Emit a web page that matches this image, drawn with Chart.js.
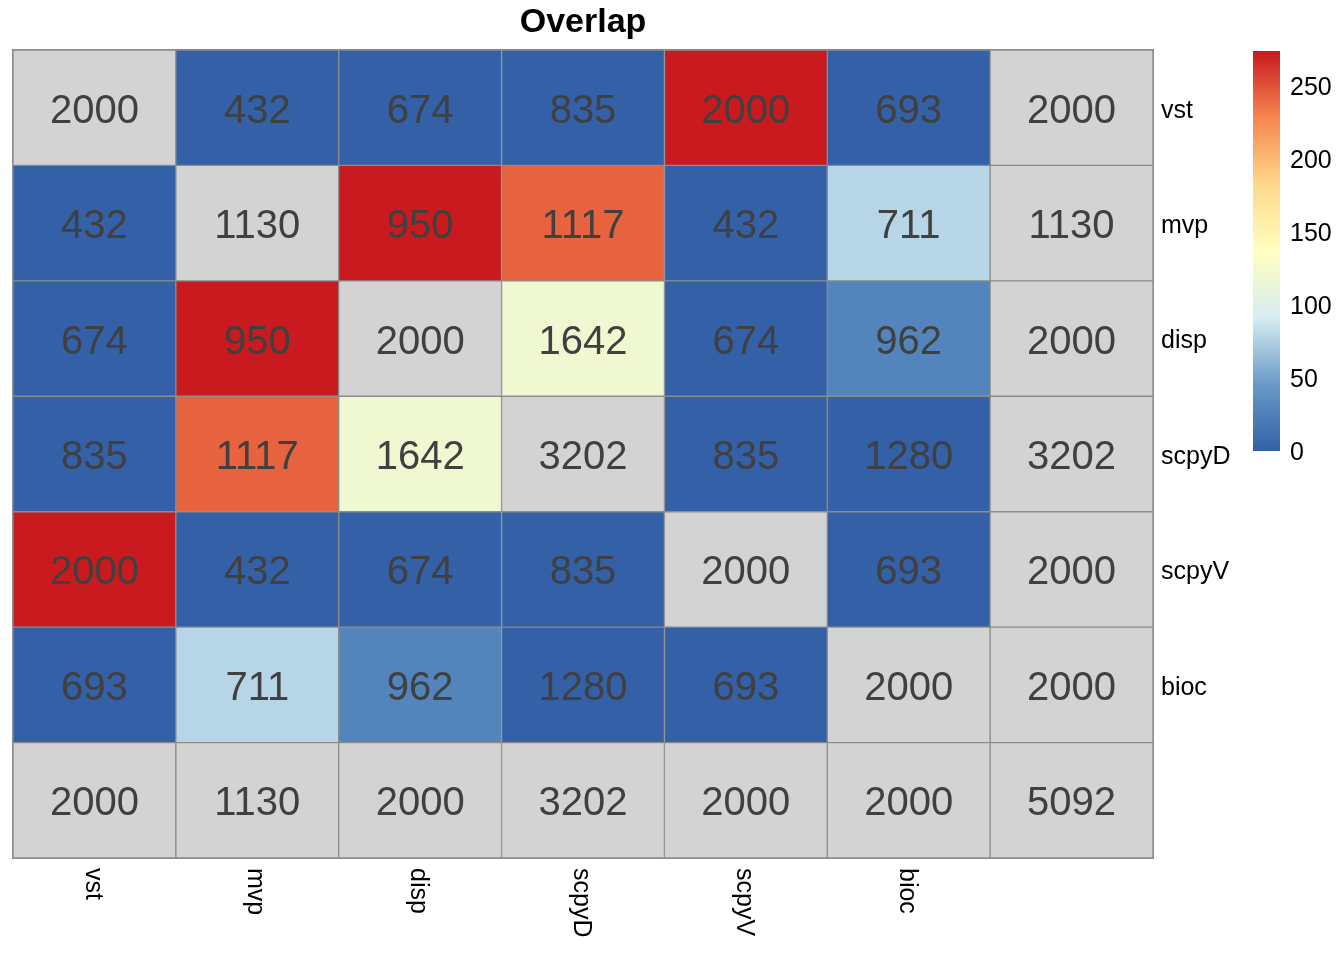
<!DOCTYPE html>
<html>
<head>
<meta charset="utf-8">
<script src="https://cdn.jsdelivr.net/npm/chart.js@4/dist/chart.umd.min.js"></script>
<style>
  html, body { margin: 0; padding: 0; background: #ffffff; }
  #wrap { width: 1344px; height: 960px; }
</style>
</head>
<body>
<div id="wrap"><canvas id="c" width="1344" height="960"></canvas></div>
<script>
// ---- data ----
const titleText = 'Overlap';
const rowLabels = ['vst', 'mvp', 'disp', 'scpyD', 'scpyV', 'bioc', ''];
const colLabels = ['vst', 'mvp', 'disp', 'scpyD', 'scpyV', 'bioc', ''];

// overlap counts shown in cells (rows top -> bottom)
const overlapVst   = [2000, 432, 674, 835, 2000, 693, 2000];
const overlapMvp   = [432, 1130, 950, 1117, 432, 711, 1130];
const overlapDisp  = [674, 950, 2000, 1642, 674, 962, 2000];
const overlapScpyD = [835, 1117, 1642, 3202, 835, 1280, 3202];
const overlapScpyV = [2000, 432, 674, 835, 2000, 693, 2000];
const overlapBioc  = [693, 711, 962, 1280, 693, 2000, 2000];
const overlapTotal = [2000, 1130, 2000, 3202, 2000, 2000, 5092];

// colour scores (null = not coloured / grey)
const scoreVst   = [null, 0, 0, 0, 273, 0, null];
const scoreMvp   = [0, null, 273, 243, 0, 78, null];
const scoreDisp  = [0, 273, null, 120, 0, 28, null];
const scoreScpyD = [0, 243, 120, null, 0, 0, null];
const scoreScpyV = [273, 0, 0, 0, null, 0, null];
const scoreBioc  = [0, 78, 28, 0, 0, null, null];
const scoreTotal = [null, null, null, null, null, null, null];

const legendTicks = [0, 50, 100, 150, 200, 250];
const scoreMin = 0;
const scoreMax = 274;

// ---- styling / helpers ----
const FONT = '"Liberation Sans", Arial, Helvetica, sans-serif';
const NA_COLOR = '#d3d3d3';
const BORDER = '#8c8c8c';
const palette = [
  [0.0, [51, 96, 166]],
  [1/6, [104, 154, 200]],
  [2/6, [214, 237, 243]],
  [3/6, [255, 255, 191]],
  [4/6, [253, 216, 138]],
  [5/6, [246, 134, 79]],
  [1.0, [200, 25, 30]]
];
function scoreColor(v) {
  if (v === null || v === undefined) return NA_COLOR;
  let t = (v - scoreMin) / (scoreMax - scoreMin);
  t = Math.max(0, Math.min(1, t));
  for (let i = 1; i < palette.length; i++) {
    if (t <= palette[i][0]) {
      const [t0, c0] = palette[i - 1], [t1, c1] = palette[i];
      const f = (t - t0) / (t1 - t0);
      const c = c0.map((a, k) => Math.round(a + (c1[k] - a) * f));
      return `rgb(${c[0]},${c[1]},${c[2]})`;
    }
  }
  const c = palette[palette.length - 1][1];
  return `rgb(${c[0]},${c[1]},${c[2]})`;
}

const overlapRows = [overlapVst, overlapMvp, overlapDisp, overlapScpyD, overlapScpyV, overlapBioc, overlapTotal];
const scoreRows = [scoreVst, scoreMvp, scoreDisp, scoreScpyD, scoreScpyV, scoreBioc, scoreTotal];
const nRows = rowLabels.length;

// stacked bars: dataset 0 = bottom row
const datasets = [];
for (let d = 0; d < nRows; d++) {
  const r = nRows - 1 - d;
  datasets.push({
    label: rowLabels[r] || 'total',
    data: colLabels.map(() => 1),
    backgroundColor: scoreRows[r].map(scoreColor),
    borderColor: BORDER,
    borderWidth: 1,
    borderSkipped: false,
    rowIndex: r
  });
}

const heatPlugin = {
  id: 'heatText',
  afterDatasetsDraw(chart) {
    const ctx = chart.ctx;
    ctx.save();
    ctx.font = '40px ' + FONT;
    ctx.fillStyle = '#404040';
    ctx.textAlign = 'center';
    ctx.textBaseline = 'middle';
    chart.data.datasets.forEach((ds, di) => {
      const meta = chart.getDatasetMeta(di);
      meta.data.forEach((el, ci) => {
        const v = overlapRows[ds.rowIndex][ci];
        ctx.fillText(String(v), el.x, (el.y + el.base) / 2 + 4);
      });
    });
    ctx.restore();
  },
  afterDraw(chart) {
    const ctx = chart.ctx;
    const area = chart.chartArea;
    const xs = chart.scales.x, ys = chart.scales.y;
    ctx.save();
    // outer border reinforcement
    ctx.strokeStyle = BORDER;
    ctx.lineWidth = 1;
    ctx.strokeRect(area.left - 0.5, area.top - 0.5, area.right - area.left + 1, area.bottom - area.top + 1);
    // title
    ctx.fillStyle = '#000';
    ctx.font = 'bold 34px ' + FONT;
    ctx.textAlign = 'center';
    ctx.textBaseline = 'alphabetic';
    ctx.fillText(titleText, (area.left + area.right) / 2, 32);
    // row labels
    ctx.font = '25px ' + FONT;
    ctx.textAlign = 'left';
    ctx.textBaseline = 'middle';
    rowLabels.forEach((lab, r) => {
      const y = ys.getPixelForValue(nRows - r - 0.5);
      ctx.fillText(lab, area.right + 8, y + 3);
    });
    // column labels, rotated 90deg clockwise
    colLabels.forEach((lab, c) => {
      const x = xs.getPixelForValue(c);
      ctx.save();
      ctx.translate(x - 2, area.bottom + 10);
      ctx.rotate(Math.PI / 2);
      ctx.textAlign = 'left';
      ctx.textBaseline = 'middle';
      ctx.fillText(lab, 0, 0);
      ctx.restore();
    });
    // colour legend
    const lx = 1253, lw = 27, ltop = 51, lbot = 451;
    const grad = ctx.createLinearGradient(0, lbot, 0, ltop);
    palette.forEach(([t, c]) => grad.addColorStop(t, `rgb(${c[0]},${c[1]},${c[2]})`));
    ctx.fillStyle = grad;
    ctx.fillRect(lx, ltop, lw, lbot - ltop);
    ctx.fillStyle = '#000';
    ctx.font = '25px ' + FONT;
    ctx.textAlign = 'left';
    ctx.textBaseline = 'middle';
    legendTicks.forEach(t => {
      const y = lbot - (t - scoreMin) / (scoreMax - scoreMin) * (lbot - ltop);
      ctx.fillText(String(t), lx + 37, y + 2);
    });
    ctx.restore();
  }
};

new Chart(document.getElementById('c'), {
  type: 'bar',
  data: { labels: colLabels, datasets },
  options: {
    responsive: false,
    animation: false,
    devicePixelRatio: 1,
    layout: { padding: { left: 13, top: 50, right: 191, bottom: 102 } },
    plugins: { legend: { display: false }, tooltip: { enabled: false }, title: { display: false } },
    datasets: { bar: { barPercentage: 1, categoryPercentage: 1 } },
    scales: {
      x: { stacked: true, display: false },
      y: { stacked: true, display: false, min: 0, max: 7 }
    }
  },
  plugins: [heatPlugin]
});
</script>
</body>
</html>
